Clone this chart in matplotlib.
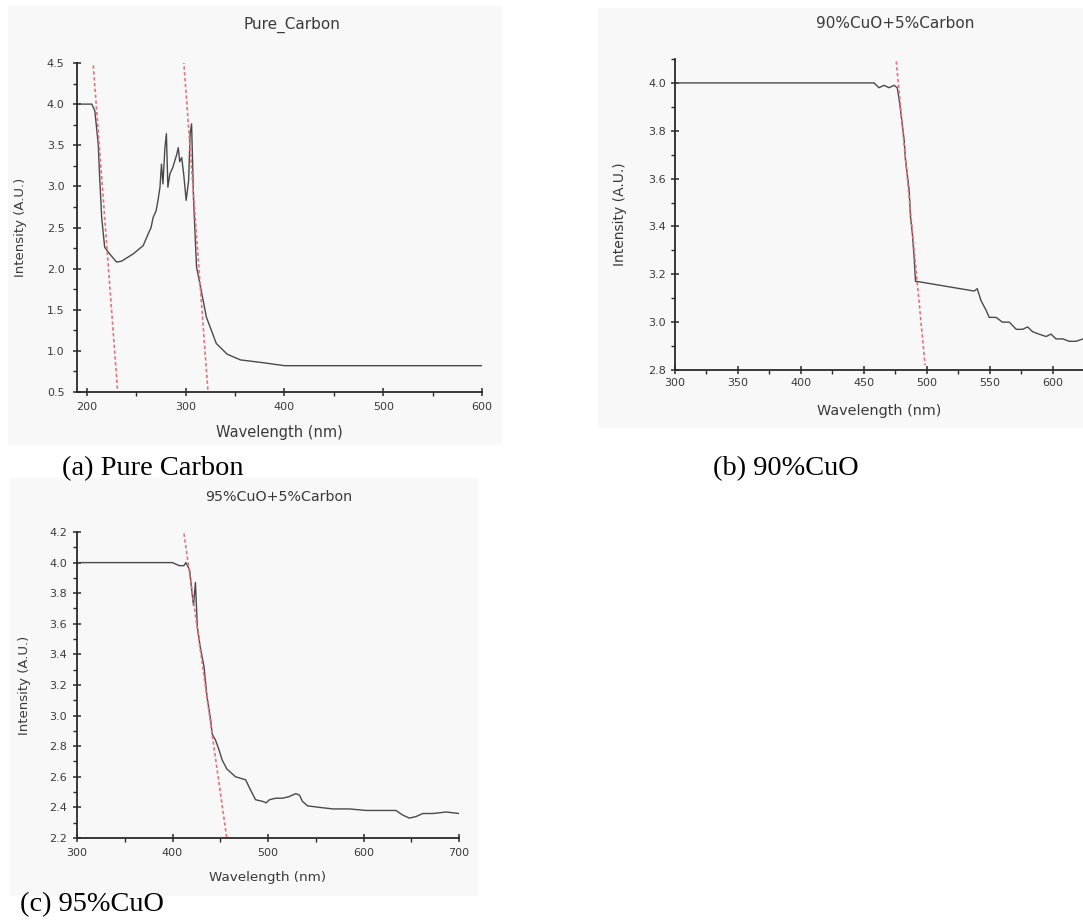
import matplotlib
matplotlib.use("Agg")
import matplotlib.pyplot as plt
from matplotlib.ticker import MultipleLocator, FormatStrFormatter
from matplotlib.patches import Rectangle

# ---------------- data ----------------
# (a) Pure Carbon
a_wl = [190, 205, 208, 209.5, 211.5, 213, 215, 218, 223, 230, 235, 247, 257, 262, 265, 267,
        270, 272, 274, 275.5, 277, 279, 280.5, 282, 284, 287, 291, 292.5, 294, 296, 298,
        300.5, 303, 304.5, 306, 308, 311, 314.5, 321, 331, 342, 355.5, 376, 400, 450, 500, 600]
a_int = [4.0, 4.0, 3.92, 3.75, 3.51, 3.1, 2.62, 2.26, 2.18, 2.08, 2.09, 2.18, 2.28, 2.42, 2.5, 2.62,
         2.7, 2.83, 2.99, 3.27, 3.03, 3.47, 3.64, 2.99, 3.15, 3.23, 3.39, 3.47, 3.3, 3.35, 3.15,
         2.83, 3.07, 3.64, 3.76, 2.83, 2.02, 1.81, 1.41, 1.09, 0.96, 0.89, 0.86, 0.82, 0.82, 0.82, 0.82]
a_tan1_x = [206.5, 231]
a_tan1_y = [4.47, 0.53]
a_tan2_x = [298, 322.5]
a_tan2_y = [4.53, 0.52]

# (b) 90%CuO
b_wl = [300, 458, 462, 466, 470, 474, 476.5, 478, 479, 482, 483, 486, 487, 488.5, 490, 491, 492.5,
        537.6, 540, 543, 547, 549.5, 555, 560, 565.5, 571, 576, 580, 584, 589, 594.7, 598.6,
        602.6, 608, 613, 618.5, 624]
b_int = [4.0, 4.0, 3.98, 3.99, 3.98, 3.99, 3.98, 3.93, 3.89, 3.76, 3.68, 3.55, 3.44, 3.37, 3.26, 3.17, 3.17,
         3.13, 3.14, 3.09, 3.05, 3.02, 3.02, 3.0, 3.0, 2.97, 2.97, 2.98, 2.96, 2.95, 2.94, 2.95,
         2.93, 2.93, 2.92, 2.92, 2.93]
b_tan_x = [475.7, 498.6]
b_tan_y = [4.09, 2.82]

# (c) 95%CuO
c_wl = [300, 400, 407, 412, 414, 416.5, 418, 419, 420.5, 422, 424, 426, 429, 433, 436, 440, 441.5,
        445, 448.5, 452, 457, 462.5, 466, 471.5, 476.6, 482, 487, 494, 498, 501.5, 508, 515, 522,
        529, 533, 536, 541.5, 554, 568, 585, 603, 620, 634, 641, 648, 655, 662, 672.7, 686.7, 700]
c_int = [4.0, 4.0, 3.98, 3.98, 4.0, 3.97, 3.95, 3.89, 3.8, 3.72, 3.87, 3.58, 3.45, 3.32, 3.13, 2.97, 2.88,
         2.84, 2.78, 2.71, 2.65, 2.62, 2.6, 2.59, 2.58, 2.51, 2.45, 2.44, 2.43, 2.45, 2.46, 2.46, 2.47,
         2.49, 2.48, 2.44, 2.41, 2.40, 2.39, 2.39, 2.38, 2.38, 2.38, 2.35, 2.33, 2.34, 2.36, 2.36, 2.37, 2.36]
c_tan_x = [412, 456.8]
c_tan_y = [4.19, 2.2]

titles = ["Pure_Carbon", "90%CuO+5%Carbon", "95%CuO+5%Carbon"]
captions = ["(a) Pure Carbon", "(b) 90%CuO", "(c) 95%CuO"]

# ---------------- figure ----------------
W, H = 1083, 923
fig = plt.figure(figsize=(W / 100, H / 100), dpi=100)
fig.patch.set_facecolor("white")

def px_rect(l, t, r, b):
    return [l / W, (H - b) / H, (r - l) / W, (b - t) / H]

# light panel backgrounds
for (l, t, r, b) in [(8, 6, 502, 445), (598, 8, 1083, 428), (10, 478, 478, 896)]:
    fig.patches.append(Rectangle((l / W, (H - b) / H), (r - l) / W, (b - t) / H,
                                 transform=fig.transFigure, facecolor="#f8f8f8",
                                 edgecolor="none", zorder=-5))

txt_col = "#3a3a3a"
line_col = "#4a4a4a"
red_col = "#e8707c"
sans = ["DejaVu Sans"]

def style(ax, xlim, ylim, xmaj, xmin, ymaj, ymin, fs, xpad, ypad):
    ax.set_facecolor("none")
    ax.set_zorder(2)
    ax.set_xlim(*xlim)
    ax.set_ylim(*ylim)
    for s in ["top", "right"]:
        ax.spines[s].set_visible(False)
    for s in ["left", "bottom"]:
        ax.spines[s].set_color("#2a2a2a")
        ax.spines[s].set_linewidth(1.3)
    ax.xaxis.set_major_locator(MultipleLocator(xmaj))
    ax.xaxis.set_minor_locator(MultipleLocator(xmin))
    ax.yaxis.set_major_locator(MultipleLocator(ymaj))
    ax.yaxis.set_minor_locator(MultipleLocator(ymin))
    ax.yaxis.set_major_formatter(FormatStrFormatter("%.1f"))
    ax.tick_params(which="major", direction="inout", length=6, width=1.1, color="#2a2a2a",
                   labelsize=fs, labelcolor=txt_col)
    ax.tick_params(axis="x", which="major", pad=xpad)
    ax.tick_params(axis="y", which="major", pad=ypad)
    ax.tick_params(which="minor", direction="out", length=3, width=1.0, color="#2a2a2a")
    for lab in ax.get_xticklabels() + ax.get_yticklabels():
        lab.set_family(sans)

# (a)
ax1 = fig.add_axes(px_rect(77, 63, 482, 392))
ax1.plot(a_wl, a_int, color=line_col, lw=1.0)
ax1.plot(a_tan1_x, a_tan1_y, color=red_col, lw=1.2, ls=(0, (2, 1.5)))
ax1.plot(a_tan2_x, a_tan2_y, color=red_col, lw=1.2, ls=(0, (2, 1.5)))
style(ax1, (190, 600), (0.5, 4.5), 100, 50, 0.5, 0.25, 8, 4, 6)
ax1.set_xlabel("Wavelength (nm)", fontsize=10.5, color=txt_col, family=sans, va="center")
ax1.set_ylabel("Intensity (A.U.)", fontsize=9.5, color=txt_col, family=sans, va="center")
ax1.xaxis.set_label_coords(0.5, (392 - 433) / 329)
ax1.yaxis.set_label_coords((20 - 77) / 405, 0.5)

# (b)
ax2 = fig.add_axes(px_rect(675, 59, 1083, 370))
ax2.plot(b_wl, b_int, color=line_col, lw=1.0)
ax2.plot(b_tan_x, b_tan_y, color=red_col, lw=1.2, ls=(0, (2, 1.5)))
style(ax2, (300, 624), (2.8, 4.1), 50, 25, 0.2, 0.1, 8, 3, 3.5)
ax2.set_xlabel("Wavelength (nm)", fontsize=10.4, color=txt_col, family=sans, va="center")
ax2.set_ylabel("Intensity (A.U.)", fontsize=10, color=txt_col, family=sans, va="center")
ax2.xaxis.set_label_coords(0.5, (370 - 411) / 311)
ax2.yaxis.set_label_coords((620 - 675) / 408, 0.5)

# (c)
ax3 = fig.add_axes(px_rect(77, 532, 459, 838))
ax3.plot(c_wl, c_int, color=line_col, lw=1.0)
ax3.plot(c_tan_x, c_tan_y, color=red_col, lw=1.2, ls=(0, (2, 1.5)))
style(ax3, (300, 700), (2.2, 4.2), 100, 50, 0.2, 0.1, 8, 4, 4)
ax3.set_xlabel("Wavelength (nm)", fontsize=9.7, color=txt_col, family=sans, va="center")
ax3.set_ylabel("Intensity (A.U.)", fontsize=9.5, color=txt_col, family=sans, va="center")
ax3.xaxis.set_label_coords(0.5, (838 - 877) / 306)
ax3.yaxis.set_label_coords((25 - 77) / 382, 0.5)

# titles
fig.text(292 / W, 1 - 25 / H, titles[0], ha="center", va="center", fontsize=11, color=txt_col, family=sans)
fig.text(895 / W, 1 - 24 / H, titles[1], ha="center", va="center", fontsize=11, color=txt_col, family=sans)
fig.text(279 / W, 1 - 497 / H, titles[2], ha="center", va="center", fontsize=10.3, color=txt_col, family=sans)

# captions
serif = ["Liberation Serif", "DejaVu Serif"]
fig.text(62 / W, 1 - 469 / H, captions[0], ha="left", va="center", fontsize=20.4, color="black", family=serif)
fig.text(713 / W, 1 - 469 / H, captions[1], ha="left", va="center", fontsize=20.4, color="black", family=serif)
fig.text(20 / W, 1 - 905 / H, captions[2], ha="left", va="center", fontsize=20.4, color="black", family=serif)

fig.savefig("out.png", dpi=100)
